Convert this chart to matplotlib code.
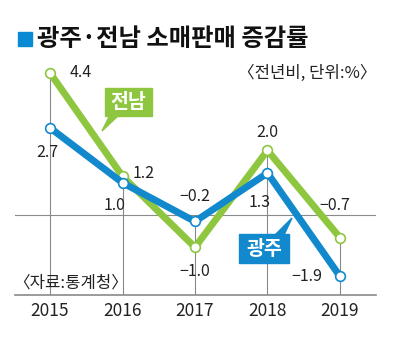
import matplotlib
matplotlib.use("Agg")
import matplotlib.pyplot as plt
from matplotlib.patches import Rectangle, Polygon

plt.rcParams['font.family'] = ['Noto Sans CJK KR', 'DejaVu Sans']

years = [2015, 2016, 2017, 2018, 2019]
gwangju = [2.7, 1.0, -0.2, 1.3, -1.9]
jeonnam = [4.4, 1.2, -1.0, 2.0, -0.7]
gwangju_labels = ["2.7", "1.0", "−0.2", "1.3", "−1.9"]
jeonnam_labels = ["4.4", "1.2", "−1.0", "2.0", "−0.7"]

GREEN = "#8ec63f"
BLUE = "#1289cd"
GRAY = "#8a8a8a"

W, H = 394, 348
fig = plt.figure(figsize=(W / 100, H / 100), dpi=100)


def fx(x):
    return x / W


def fy(y):
    return 1 - y / H


# axes placed so that the plot area runs from px 15..376, 60..295
ax = fig.add_axes([fx(15), fy(295), fx(376) - fx(15), fy(60) - fy(295)])
ax.set_xlim(2014.517, 2019.497)
ax.set_ylim(-2.477, 4.8)
for s in ax.spines.values():
    s.set_visible(False)
ax.set_yticks([])
ax.set_xticks(years)
ax.set_xticklabels([str(y) for y in years], fontsize=12.5, color="#222222")
ax.tick_params(axis='x', length=0, pad=5)

ymin = ax.get_ylim()[0]
tops = [max(a, b) for a, b in zip(gwangju, jeonnam)]
ax.vlines(years, ymin, tops, color=GRAY, lw=0.8, zorder=1)
ax.axhline(0, color=GRAY, lw=0.8, zorder=1)
ax.axhline(ymin, color=GRAY, lw=1.2, zorder=1, clip_on=False)

ax.plot(years, jeonnam, color=GREEN, lw=5, zorder=3, solid_capstyle='butt',
        marker='o', ms=7, mfc='white', mec=GREEN, mew=1.2)
ax.plot(years, gwangju, color=BLUE, lw=5, zorder=4, solid_capstyle='butt',
        marker='o', ms=7, mfc='white', mec=BLUE, mew=1.2)

# value labels (offsets in points)
jeonnam_off = [(14, 0, 'left', 'center'), (7, 2, 'left', 'center'),
               (0, -11, 'center', 'top'), (0, 7, 'center', 'bottom'),
               (-4, 17, 'center', 'bottom')]
gwangju_off = [(-2, -12, 'center', 'top'), (-6, -10, 'center', 'top'),
               (0, 12, 'center', 'bottom'), (-6, -15, 'center', 'top'),
               (-13, 0, 'right', 'center')]
for xs, ys, labs, offs in [(years, jeonnam, jeonnam_labels, jeonnam_off),
                           (years, gwangju, gwangju_labels, gwangju_off)]:
    for x, y, t, (dx, dy, ha, va) in zip(xs, ys, labs, offs):
        ax.annotate(t, (x, y), xytext=(dx, dy), textcoords='offset points',
                    ha=ha, va=va, fontsize=11.5, color="#222222", zorder=6)

# title
fig.patches.append(Rectangle((fx(18), fy(46)), fx(14), fy(32) - fy(46),
                             transform=fig.transFigure, color="#0a8ad2"))
fig.text(fx(37), fy(39), "광주·전남 소매판매 증감률", fontsize=17.5,
         fontweight='bold', ha='left', va='center', color="#111111")
fig.text(fx(377), fy(73), "〈전년비, 단위:%〉", fontsize=12,
         ha='right', va='center', color="#222222")
fig.text(fx(13), fy(283), "〈자료:통계청〉", fontsize=12,
         ha='left', va='center', color="#222222")


# callout boxes
def callout(box, tail, text, color):
    x0, y0, x1, y1 = box
    fig.patches.append(Rectangle((fx(x0), fy(y1)), fx(x1 - x0), fy(y0) - fy(y1),
                                 transform=fig.transFigure, color=color, zorder=5))
    fig.patches.append(Polygon([(fx(px), fy(py)) for px, py in tail],
                               transform=fig.transFigure, color=color, zorder=5))
    fig.text(fx((x0 + x1) / 2), fy((y0 + y1) / 2 + 1), text, fontsize=14,
             fontweight='bold', color='white', ha='center', va='center', zorder=6)


callout((105, 88, 152, 116), [(110, 115), (119, 115), (102, 131)], "전남", GREEN)
callout((239, 234, 289, 263), [(275, 235), (284, 235), (292, 218)], "광주", BLUE)

fig.savefig("out.png", dpi=100)
